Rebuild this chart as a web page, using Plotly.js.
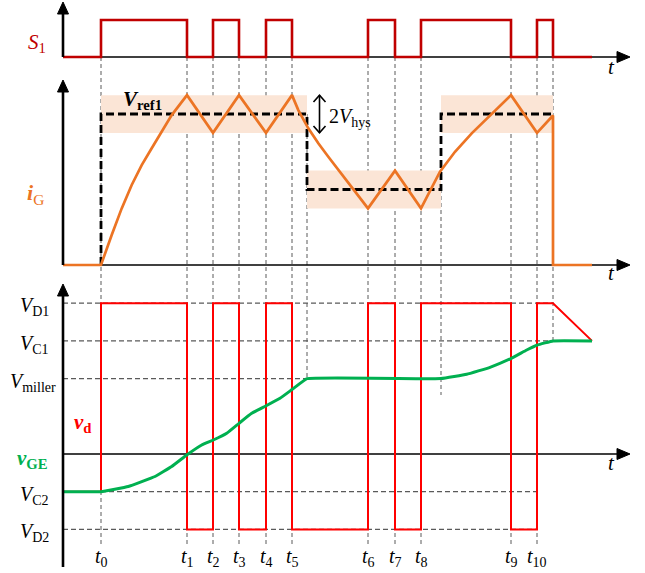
<!DOCTYPE html>
<html>
<head>
<meta charset="utf-8">
<script src="https://cdn.plot.ly/plotly-3.0.1.min.js"></script>
<style>html,body{margin:0;padding:0;background:#fff}</style>
</head>
<body>
<div id="chart" style="width:645px;height:573px"></div>
<script>
// ---------- data ----------
// switching instants t0..t10 (time units)
const switchTimes = [3.8, 12.4, 15.0, 17.6, 20.3, 22.9, 30.5, 33.2, 35.8, 44.8, 47.4];
const tickSubs = ['0','1','2','3','4','5','6','7','8','9','10'];
const refDownTime = 24.4;   // reference steps down
const refUpTime = 37.8;     // reference steps up
const endTime = 49.0;       // turn-off
const stopTime = 52.9;      // end of traces
const axisEnd = 56.5;

// S1 gate signal: level after each switching instant
const s1Levels = [1, 0, 1, 0, 1, 0, 1, 0, 1, 0, 1];

// current reference levels
const refLevels = [1.0, 0.5, 1.0];
const Vhys = 0.125;

// gate current i_G
const iG_t = [0, 3.8, 4.87, 5.87, 6.87, 7.87, 8.87, 9.87, 10.87, 12.4, 15.0, 17.6, 20.3, 22.9,
              23.53, 24.53, 25.53, 26.53, 27.53, 28.87, 30.5, 33.2, 35.8,
              37.7, 39.2, 40.87, 42.87, 44.8, 47.4, 49.0, 49.0, 52.9];
const iG_v = [0, 0, 0.199, 0.375, 0.530, 0.662, 0.773, 0.883, 0.993, 1.125, 0.875, 1.125, 0.875, 1.125,
              1.026, 0.905, 0.806, 0.717, 0.629, 0.518, 0.375, 0.625, 0.375,
              0.618, 0.750, 0.872, 0.998, 1.125, 0.875, 0.99, 0, 0];

// voltage levels
const VD1 = 4, VC1 = 3, Vmiller = 2, VC2 = -1, VD2 = -2;
// driver voltage v_d : level after each switching instant
const vdStart = -1;
const vdLevels = [4, -2, 4, -2, 4, -2, 4, -2, 4, -2, 4];
const vdFinal = 3;

// gate-emitter voltage v_GE
const vGE_t = [0, 3.8, 6.53, 9.2, 10.87, 12.37, 13.87, 15.03, 16.37, 17.6, 18.87, 20.27, 21.7, 22.93, 24.4,
               37.8, 40.37, 42.7, 44.83, 46.37, 47.43, 49.0, 52.9];
const vGE_v = [-1, -1, -0.862, -0.597, -0.332, -0.027, 0.239, 0.371, 0.549, 0.814, 1.079, 1.273, 1.477, 1.716, 2,
               2, 2.114, 2.3, 2.538, 2.759, 2.891, 3, 3];

// ---------- build ----------
const W = 645, H = 573;
const px = x => x / W;
const py = y => 1 - y / H;

const c = {
  s1: '#C00000', ig: '#EC7424', band: '#FBE5D6', vd: '#FF0000', vge: '#00B050', grid: '#5a5a5a'
};

// S1 step trace
const s1x = [0], s1y = [0];
let lvl = 0;
switchTimes.forEach((t, i) => { s1x.push(t, t); s1y.push(lvl, s1Levels[i]); lvl = s1Levels[i]; });
s1x.push(endTime, endTime, stopTime); s1y.push(lvl, 0, 0);

// reference
const refX = [switchTimes[0], switchTimes[0], refDownTime, refDownTime, refUpTime, refUpTime, endTime];
const refY = [0, refLevels[0], refLevels[0], refLevels[1], refLevels[1], refLevels[2], refLevels[2]];

// vd
const vdx = [0], vdy = [vdStart];
lvl = vdStart;
switchTimes.forEach((t, i) => { vdx.push(t, t); vdy.push(lvl, vdLevels[i]); lvl = vdLevels[i]; });
vdx.push(endTime, stopTime); vdy.push(lvl, vdFinal);

const traces = [
  {x: s1x, y: s1y, xaxis: 'x', yaxis: 'y', mode: 'lines', line: {color: c.s1, width: 2.6}, hoverinfo: 'skip'},
  {x: refX, y: refY, xaxis: 'x', yaxis: 'y2', mode: 'lines', line: {color: '#000', width: 2.8, dash: '8px,4px'}, hoverinfo: 'skip'},
  {x: iG_t, y: iG_v, xaxis: 'x', yaxis: 'y2', mode: 'lines', line: {color: c.ig, width: 2.7}, hoverinfo: 'skip'},
  {x: vdx, y: vdy, xaxis: 'x', yaxis: 'y3', mode: 'lines', line: {color: c.vd, width: 2}, hoverinfo: 'skip'},
  {x: vGE_t, y: vGE_v, xaxis: 'x', yaxis: 'y3', mode: 'lines', line: {color: c.vge, width: 3, shape: 'spline', smoothing: 0.25}, hoverinfo: 'skip'}
];

const shapes = [];
// hysteresis bands
const bandSpans = [[switchTimes[0], refDownTime], [refDownTime, refUpTime], [refUpTime, endTime]];
bandSpans.forEach((s, i) => shapes.push({type: 'rect', xref: 'x', yref: 'y2', x0: s[0], x1: s[1],
  y0: refLevels[i] - Vhys, y1: refLevels[i] + Vhys, fillcolor: c.band, line: {width: 0}, layer: 'below'}));

const dash = {color: c.grid, width: 1, dash: '4px,3px'};
// vertical dashed guides
switchTimes.forEach(t => shapes.push({type: 'line', xref: 'x', yref: 'paper', x0: t, x1: t, y0: py(57), y1: py(546), line: dash, layer: 'below'}));
shapes.push({type: 'line', xref: 'x', yref: 'paper', x0: refDownTime, x1: refDownTime, y0: py(114), y1: py(379), line: dash, layer: 'below'});
shapes.push({type: 'line', xref: 'x', yref: 'paper', x0: refUpTime, x1: refUpTime, y0: py(189), y1: py(395), line: dash, layer: 'below'});
shapes.push({type: 'line', xref: 'x', yref: 'paper', x0: endTime, x1: endTime, y0: py(57), y1: py(341), line: dash, layer: 'below'});
// horizontal dashed levels
const hdash = {color: c.grid, width: 1.3, dash: '5px,3px'};
[[VD1, 0, endTime], [VC1, 0, endTime], [Vmiller, 0, refDownTime], [VC2, switchTimes[0], switchTimes[10]], [VD2, 0, switchTimes[10]]]
  .forEach(h => shapes.push({type: 'line', xref: 'x', yref: 'y3', x0: h[1], x1: h[2], y0: h[0], y1: h[0], line: hdash, layer: 'below'}));

// axes with arrows
const axX = 63, axTip = 630;
[[57, 12, 2], [265, 90, 80], [567, 294, 284]].forEach(a => {
  shapes.push({type: 'line', xref: 'paper', yref: 'paper', x0: px(axX), x1: px(axX), y0: py(a[0]), y1: py(a[1]), line: {color: '#000', width: 2.6}});
  shapes.push({type: 'path', xref: 'paper', yref: 'paper',
    path: `M${px(axX)},${py(a[2])} L${px(axX - 5.5)},${py(a[2] + 12)} L${px(axX + 5.5)},${py(a[2] + 12)} Z`,
    fillcolor: '#000', line: {color: '#000', width: 1}});
});
[57, 265, 454].forEach(y => {
  shapes.push({type: 'line', xref: 'paper', yref: 'paper', x0: px(axX), x1: px(620), y0: py(y), y1: py(y), line: {color: '#000', width: 1.4}, layer: 'below'});
  shapes.push({type: 'path', xref: 'paper', yref: 'paper',
    path: `M${px(axTip)},${py(y)} L${px(axTip - 13)},${py(y - 5.5)} L${px(axTip - 13)},${py(y + 5.5)} Z`,
    fillcolor: '#000', line: {color: '#000', width: 1}});
});

// 2Vhys double arrow
const hx = px(319.5);
const hTop = refLevels[0] + Vhys, hBot = refLevels[0] - Vhys, chev = 0.045, cw = px(6);
shapes.push({type: 'line', xref: 'paper', yref: 'y2', x0: hx, x1: hx, y0: hBot, y1: hTop, line: {color: '#000', width: 1.6}});
shapes.push({type: 'path', xref: 'paper', yref: 'y2', path: `M${hx - cw},${hTop - chev} L${hx},${hTop} L${hx + cw},${hTop - chev}`, line: {color: '#000', width: 1.6}});
shapes.push({type: 'path', xref: 'paper', yref: 'y2', path: `M${hx - cw},${hBot + chev} L${hx},${hBot} L${hx + cw},${hBot + chev}`, line: {color: '#000', width: 1.6}});

// ---------- text ----------
const serif = 'Liberation Serif, Times New Roman, serif';
const ann = [];
function txt(text, x, y, opts) {
  ann.push(Object.assign({text, x: px(x), y: py(y), xref: 'paper', yref: 'paper', showarrow: false,
    xanchor: 'center', yanchor: 'middle', font: {family: serif, size: 20, color: '#000'}}, opts || {}));
}
txt('<i>S</i><sub>1</sub>', 37, 43, {font: {family: serif, size: 21, color: c.s1}});
txt('<i>t</i>', 611, 67, {font: {family: serif, size: 21, color: '#000'}});
txt('<i>t</i>', 611, 273, {font: {family: serif, size: 21, color: '#000'}});
txt('<i>t</i>', 611, 463, {font: {family: serif, size: 21, color: '#000'}});
txt('<b><i>V</i></b><sub><b>ref1</b></sub>', 121, 100, {xanchor: 'left', font: {family: serif, size: 21, color: '#000'}});
txt('2<i>V</i><sub>hys</sub>', 327, 117, {xanchor: 'left', font: {family: serif, size: 20, color: '#000'}});
txt('<b><i>i</i></b><sub>G</sub>', 35, 194, {font: {family: serif, size: 22, color: c.ig}});
txt('<i>V</i><sub>D1</sub>', 51, 306, {xanchor: 'right'});
txt('<i>V</i><sub>C1</sub>', 51, 344, {xanchor: 'right'});
txt('<i>V</i><sub>miller</sub>', 58, 382, {xanchor: 'right'});
txt('<b><i>v</i><sub>d</sub></b>', 72, 423, {xanchor: 'left', font: {family: serif, size: 21, color: c.vd}});
txt('<b><i>v</i><sub>GE</sub></b>', 50, 459, {xanchor: 'right', font: {family: serif, size: 21, color: c.vge}});
txt('<i>V</i><sub>C2</sub>', 51, 495, {xanchor: 'right'});
txt('<i>V</i><sub>D2</sub>', 51, 532, {xanchor: 'right'});
switchTimes.forEach((t, i) => ann.push({text: '<i>t</i><sub>' + tickSubs[i] + '</sub>',
  x: t, y: py(557), xref: 'x', yref: 'paper', showarrow: false, xanchor: 'center', yanchor: 'middle',
  font: {family: serif, size: 20, color: '#000'}}));

const ax = {visible: false, showgrid: false, zeroline: false, fixedrange: true};
const layout = {
  width: W, height: H, margin: {l: 0, r: 0, t: 0, b: 0},
  paper_bgcolor: '#fff', plot_bgcolor: 'rgba(0,0,0,0)', showlegend: false,
  xaxis: Object.assign({}, ax, {domain: [63 / W, 628 / W], range: [0, axisEnd], anchor: 'y3'}),
  yaxis: Object.assign({}, ax, {domain: [py(62), 1], range: [-5 / 37, 57 / 37], anchor: 'x'}),
  yaxis2: Object.assign({}, ax, {domain: [py(270), py(75)], range: [-5 / 151, 190 / 151], anchor: 'x'}),
  yaxis3: Object.assign({}, ax, {domain: [0, py(280)], range: [-119 / 37.7, 174 / 37.7], anchor: 'x'}),
  shapes, annotations: ann
};
Plotly.newPlot('chart', traces, layout, {staticPlot: true, displayModeBar: false});
</script>
</body>
</html>
